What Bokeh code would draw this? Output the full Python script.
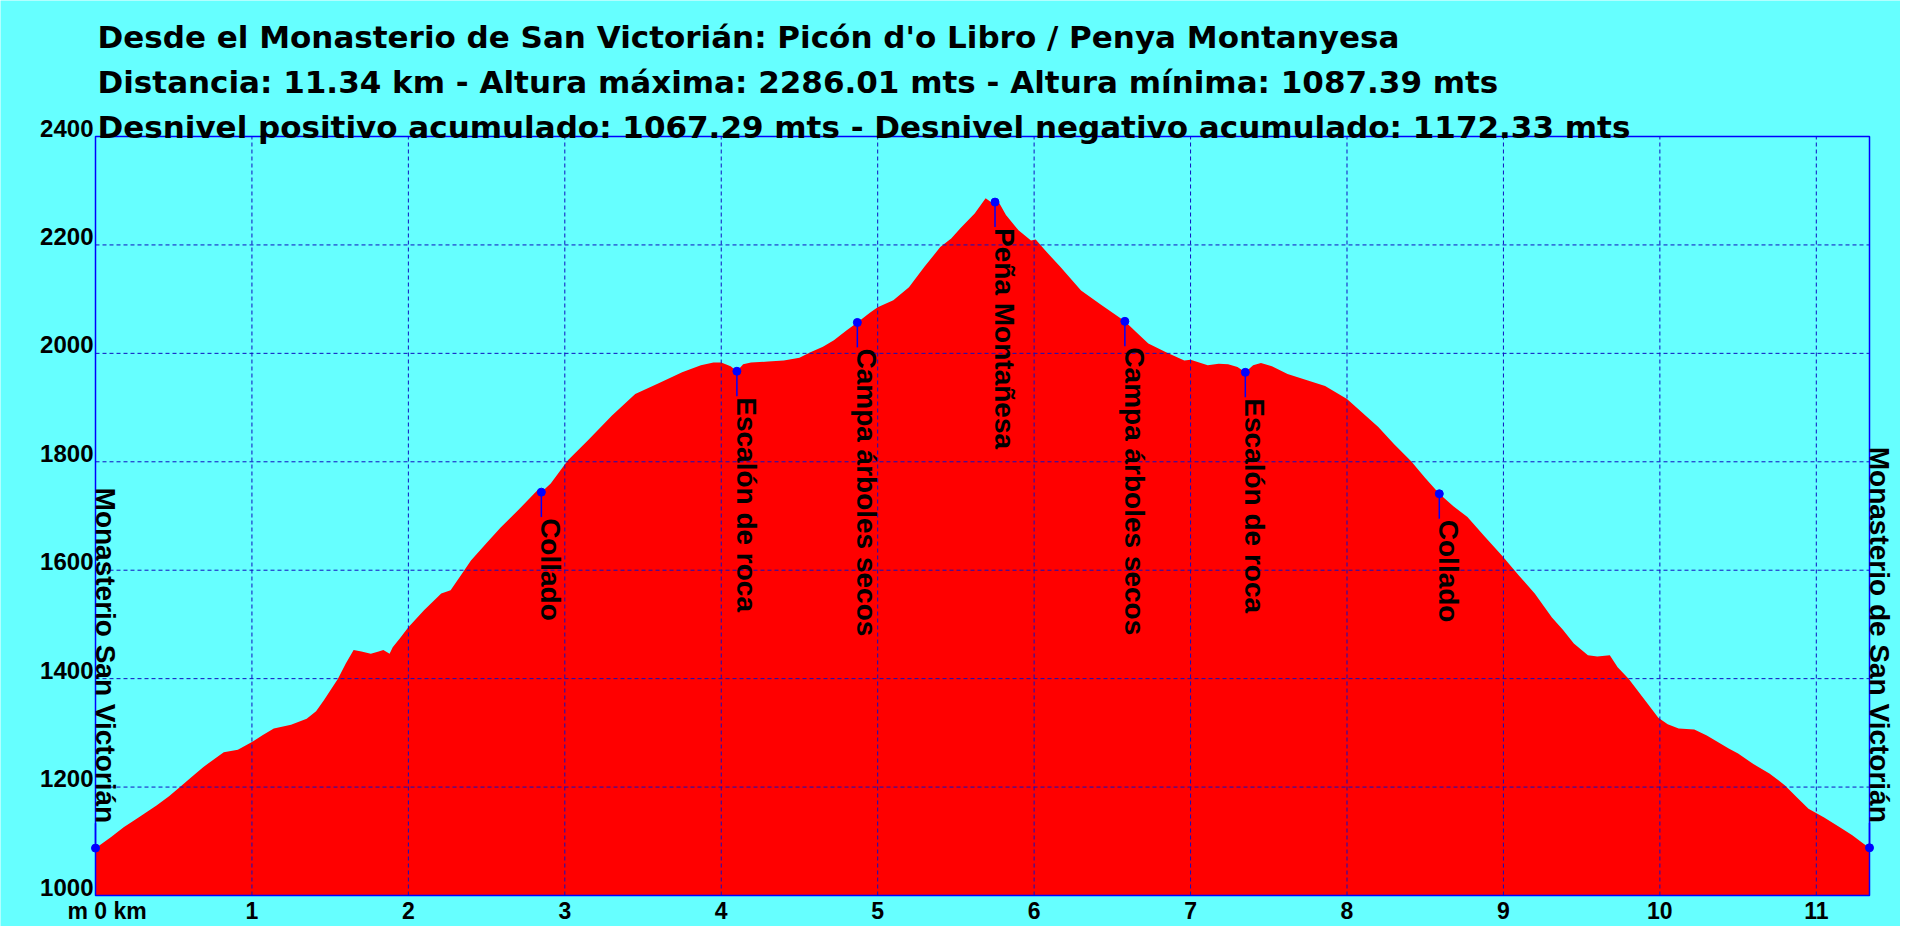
import numpy as np
from bokeh.core.properties import value
from bokeh.embed import file_html
from bokeh.models import ColumnDataSource, Label, LabelSet, Range1d
from bokeh.plotting import figure
from bokeh.resources import INLINE

TITLE_LINES = [
    "Desde el Monasterio de San Victorián: Picón d'o Libro / Penya Montanyesa",
    "Distancia: 11.34 km - Altura máxima: 2286.01 mts - Altura mínima: 1087.39 mts",
    "Desnivel positivo acumulado: 1067.29 mts - Desnivel negativo acumulado: 1172.33 mts",
]

# perfil: distancia (km) / altura (m)
dist_km = [
    0.00, 0.10, 0.18, 0.28, 0.39, 0.47, 0.54, 0.62, 0.69, 0.76, 0.82, 0.91, 1.00, 1.07,
    1.14, 1.25, 1.35, 1.41, 1.46, 1.55, 1.60, 1.65, 1.70, 1.76, 1.81, 1.84, 1.88, 1.90,
    1.95, 2.00, 2.10, 2.21, 2.27, 2.36, 2.40, 2.50, 2.59, 2.72, 2.80, 2.83, 2.85, 2.91,
    3.02, 3.15, 3.30, 3.45, 3.60, 3.75, 3.87, 3.95, 4.00, 4.06, 4.10, 4.14, 4.19, 4.30,
    4.40, 4.50, 4.57, 4.65, 4.72, 4.80, 4.87, 4.95, 5.00, 5.10, 5.20, 5.30, 5.40, 5.47,
    5.53, 5.62, 5.69, 5.73, 5.76, 5.82, 5.90, 5.98, 6.01, 6.07, 6.17, 6.30, 6.43, 6.58,
    6.65, 6.73, 6.85, 6.96, 7.00, 7.11, 7.18, 7.24, 7.30, 7.35, 7.40, 7.45, 7.52, 7.62,
    7.75, 7.86, 8.00, 8.10, 8.20, 8.30, 8.41, 8.50, 8.59, 8.68, 8.77, 8.88, 8.99, 9.10,
    9.20, 9.31, 9.38, 9.45, 9.54, 9.60, 9.68, 9.73, 9.80, 9.90, 9.99, 10.05, 10.12, 10.22,
    10.30, 10.44, 10.50, 10.60, 10.70, 10.76, 10.80, 10.88, 10.95, 11.05, 11.15, 11.23,
    11.30, 11.34,
]
altura_m = [
    1087, 1108, 1126, 1145, 1166, 1183, 1200, 1220, 1237, 1252, 1264, 1269, 1283, 1296,
    1308, 1315, 1326, 1340, 1360, 1400, 1428, 1453, 1450, 1446, 1450, 1453, 1446, 1458,
    1476, 1495, 1526, 1557, 1563, 1601, 1618, 1650, 1679, 1716, 1740, 1749, 1744, 1760,
    1803, 1840, 1885, 1925, 1945, 1965, 1978, 1983, 1983, 1976, 1967, 1980, 1983, 1985,
    1987, 1992, 2002, 2012, 2024, 2042, 2057, 2075, 2085, 2098, 2122, 2160, 2196, 2212,
    2231, 2258, 2286, 2278, 2286, 2255, 2227, 2208, 2210, 2190, 2159, 2116, 2089, 2059,
    2040, 2018, 2001, 1987, 1988, 1978, 1981, 1980, 1975, 1965, 1978, 1982, 1976, 1962,
    1950, 1940, 1916, 1890, 1864, 1833, 1801, 1770, 1741, 1718, 1698, 1662, 1627, 1590,
    1557, 1513, 1490, 1465, 1443, 1441, 1443, 1421, 1400, 1362, 1328, 1316, 1308, 1306,
    1295, 1271, 1262, 1242, 1225, 1212, 1203, 1180, 1160, 1144, 1126, 1111,
    1096, 1088,
]

# puntos de paso
wp_names = [
    "Monasterio San Victorián", "Collado", "Escalón de roca", "Campa árboles secos",
    "Peña Montañesa", "Campa árboles secos", "Escalón de roca", "Collado",
    "Monasterio de San Victorián",
]
wp_km = [0.0, 2.85, 4.10, 4.87, 5.75, 6.58, 7.35, 8.59, 11.34]
wp_alt = [1087.39, 1744, 1967, 2057, 2279, 2059, 1965, 1741, 1088]
wp_above = [True, False, False, False, False, False, False, False, True]

x_ticks = [1, 2, 3, 4, 5, 6, 7, 8, 9, 10, 11]
y_ticks = [1000, 1200, 1400, 1600, 1800, 2000, 2200, 2400]
origin_label = "m 0 km"
X_MIN, X_MAX = 0, 11.34
Y_MIN, Y_MAX = 1000, 2400

W, H = 1900, 926
# margenes del recuadro del grafico dentro del lienzo (px)
LEFT, RIGHT, TOP, BOTTOM = 95, 31, 136, 31

BG = "#66FFFF"
BLUE = "#0000FF"
GRID = "#1010C0"
FONT = "Liberation Sans"
TITLE_FONT = "DejaVu Sans"
STEM = 46  # largo del palito en metros

# los rangos se amplian para que todo el lienzo sea zona de dibujo (sin recortes de textos)
kx = (X_MAX - X_MIN) / (W - LEFT - RIGHT)
ky = (Y_MAX - Y_MIN) / (H - TOP - BOTTOM)
p = figure(
    width=W, height=H,
    x_range=Range1d(X_MIN - LEFT * kx, X_MAX + RIGHT * kx),
    y_range=Range1d(Y_MIN - BOTTOM * ky, Y_MAX + TOP * ky),
    x_axis_type=None, y_axis_type=None,
    toolbar_location=None, output_backend="svg",
    min_border=0,
)
p.background_fill_color = BG
p.border_fill_color = BG
p.outline_line_color = None
p.xgrid.visible = False
p.ygrid.visible = False

p.varea(x=dist_km, y1=Y_MIN, y2=altura_m, color="#FF0000")

# rejilla discontinua dentro del recuadro
p.segment(x0=x_ticks, y0=Y_MIN, x1=x_ticks, y1=Y_MAX,
          line_color=GRID, line_dash="4 3", line_width=1)
p.segment(x0=X_MIN, y0=y_ticks[1:-1], x1=X_MAX, y1=y_ticks[1:-1],
          line_color=GRID, line_dash="4 3", line_width=1)

p.quad(left=X_MIN, right=X_MAX, bottom=Y_MIN, top=Y_MAX,
       fill_color=None, line_color=BLUE, line_width=1.5)

# palitos y puntos
km = np.array(wp_km)
alt = np.array(wp_alt)
above = np.array(wp_above)
stem_end = np.where(above, alt + STEM, alt - STEM)
p.segment(x0=km, y0=alt, x1=km, y1=stem_end, line_color=BLUE, line_width=1.5)
p.scatter(km, alt, size=8, color=BLUE)

below_src = ColumnDataSource(dict(
    x=km[~above], y=alt[~above], name=[n for n, a in zip(wp_names, wp_above) if not a]))
above_src = ColumnDataSource(dict(
    x=km[above], y=alt[above], name=[n for n, a in zip(wp_names, wp_above) if a]))

common = dict(x="x", y="y", text="name", angle=-np.pi / 2, text_font=value(FONT),
              text_font_size="28px", text_font_style="bold", text_color="black",
              text_baseline="alphabetic")
p.add_layout(LabelSet(source=below_src, text_align="left", y_offset=-26, **common))
p.add_layout(LabelSet(source=above_src, text_align="right", y_offset=25, **common))

# etiquetas de los ejes
tick_style = dict(x="x", y="y", text="t", text_baseline="alphabetic", text_font=value(FONT),
                  text_font_style="bold", text_color="black")
ysrc = ColumnDataSource(dict(x=[X_MIN] * len(y_ticks), y=y_ticks, t=[str(v) for v in y_ticks]))
p.add_layout(LabelSet(source=ysrc, x_offset=-2, text_align="right", text_font_size="24px",
                      **tick_style))
xsrc = ColumnDataSource(dict(x=x_ticks, y=[Y_MIN] * len(x_ticks), t=[str(v) for v in x_ticks]))
p.add_layout(LabelSet(source=xsrc, y_offset=-23, text_align="center", text_font_size="23px",
                      **tick_style))
osrc = ColumnDataSource(dict(x=[X_MIN], y=[Y_MIN], t=[origin_label]))
p.add_layout(LabelSet(source=osrc, x_offset=-28, y_offset=-23, text_align="left",
                      text_font_size="23px", **tick_style))

# titulo en tres lineas
for i, line in enumerate(TITLE_LINES):
    p.add_layout(Label(x=X_MIN, y=Y_MAX, x_offset=2, y_offset=100 - 45 * i, text=line,
                       text_align="left", text_baseline="alphabetic", text_font=TITLE_FONT,
                       text_font_size="31px", text_font_style="bold", text_color="black"))

open("out.html", "w").write(file_html(p, INLINE))
